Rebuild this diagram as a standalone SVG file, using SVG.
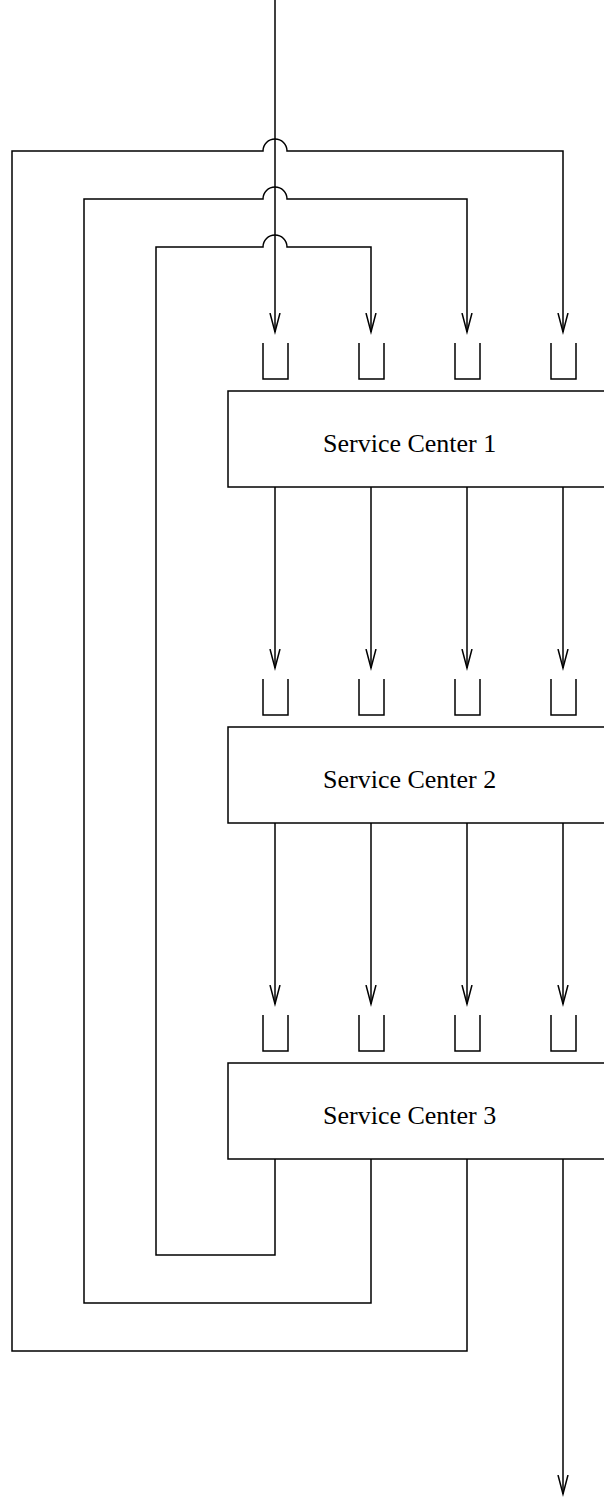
<svg xmlns="http://www.w3.org/2000/svg" width="604" height="1497" viewBox="0 0 604 1497">
<defs>
<marker id="ah" markerWidth="22" markerHeight="12" refX="19" refY="6" orient="auto" markerUnits="userSpaceOnUse" viewBox="0 0 22 12">
<path d="M0,1 L19,6 L0,11" fill="none" stroke="#000" stroke-width="1.5"/>
</marker>
</defs>
<style>
.ln{fill:none;stroke:#000;stroke-width:1.5}
.box{fill:#fff;stroke:#000;stroke-width:1.5}
.q{fill:none;stroke:#000;stroke-width:1.5}
.lbl{font-family:"Liberation Serif","Times New Roman",serif;font-size:26px;fill:#000}
</style>
<rect width="604" height="1497" fill="#fff"/>
<g id="connectors">
<path class="ln" d="M275,0 V332" marker-end="url(#ah)"/>
<path class="ln" d="M275,1159 V1255 H156 V247 H263 A12,12 0 0 1 287,247 H371 V332" marker-end="url(#ah)"/>
<path class="ln" d="M371,1159 V1303 H84 V199 H263 A12,12 0 0 1 287,199 H467 V332" marker-end="url(#ah)"/>
<path class="ln" d="M467,1159 V1351 H12 V151 H263 A12,12 0 0 1 287,151 H563 V332" marker-end="url(#ah)"/>
<path class="ln" d="M275,487 V668" marker-end="url(#ah)"/>
<path class="ln" d="M371,487 V668" marker-end="url(#ah)"/>
<path class="ln" d="M467,487 V668" marker-end="url(#ah)"/>
<path class="ln" d="M563,487 V668" marker-end="url(#ah)"/>
<path class="ln" d="M275,823 V1004" marker-end="url(#ah)"/>
<path class="ln" d="M371,823 V1004" marker-end="url(#ah)"/>
<path class="ln" d="M467,823 V1004" marker-end="url(#ah)"/>
<path class="ln" d="M563,823 V1004" marker-end="url(#ah)"/>
<path class="ln" d="M563,1159 V1494" marker-end="url(#ah)"/>
</g>
<g id="queues1">
<path class="q" d="M263,343 V379 H288 V343"/>
<path class="q" d="M359,343 V379 H384 V343"/>
<path class="q" d="M455,343 V379 H480 V343"/>
<path class="q" d="M551,343 V379 H576 V343"/>
</g>
<g id="sc1">
<rect class="box" x="228" y="391" width="390" height="96"/>
<text class="lbl" x="323" y="452">Service Center 1</text>
</g>
<g id="queues2">
<path class="q" d="M263,679 V715 H288 V679"/>
<path class="q" d="M359,679 V715 H384 V679"/>
<path class="q" d="M455,679 V715 H480 V679"/>
<path class="q" d="M551,679 V715 H576 V679"/>
</g>
<g id="sc2">
<rect class="box" x="228" y="727" width="390" height="96"/>
<text class="lbl" x="323" y="788">Service Center 2</text>
</g>
<g id="queues3">
<path class="q" d="M263,1015 V1051 H288 V1015"/>
<path class="q" d="M359,1015 V1051 H384 V1015"/>
<path class="q" d="M455,1015 V1051 H480 V1015"/>
<path class="q" d="M551,1015 V1051 H576 V1015"/>
</g>
<g id="sc3">
<rect class="box" x="228" y="1063" width="390" height="96"/>
<text class="lbl" x="323" y="1124">Service Center 3</text>
</g>
</svg>
